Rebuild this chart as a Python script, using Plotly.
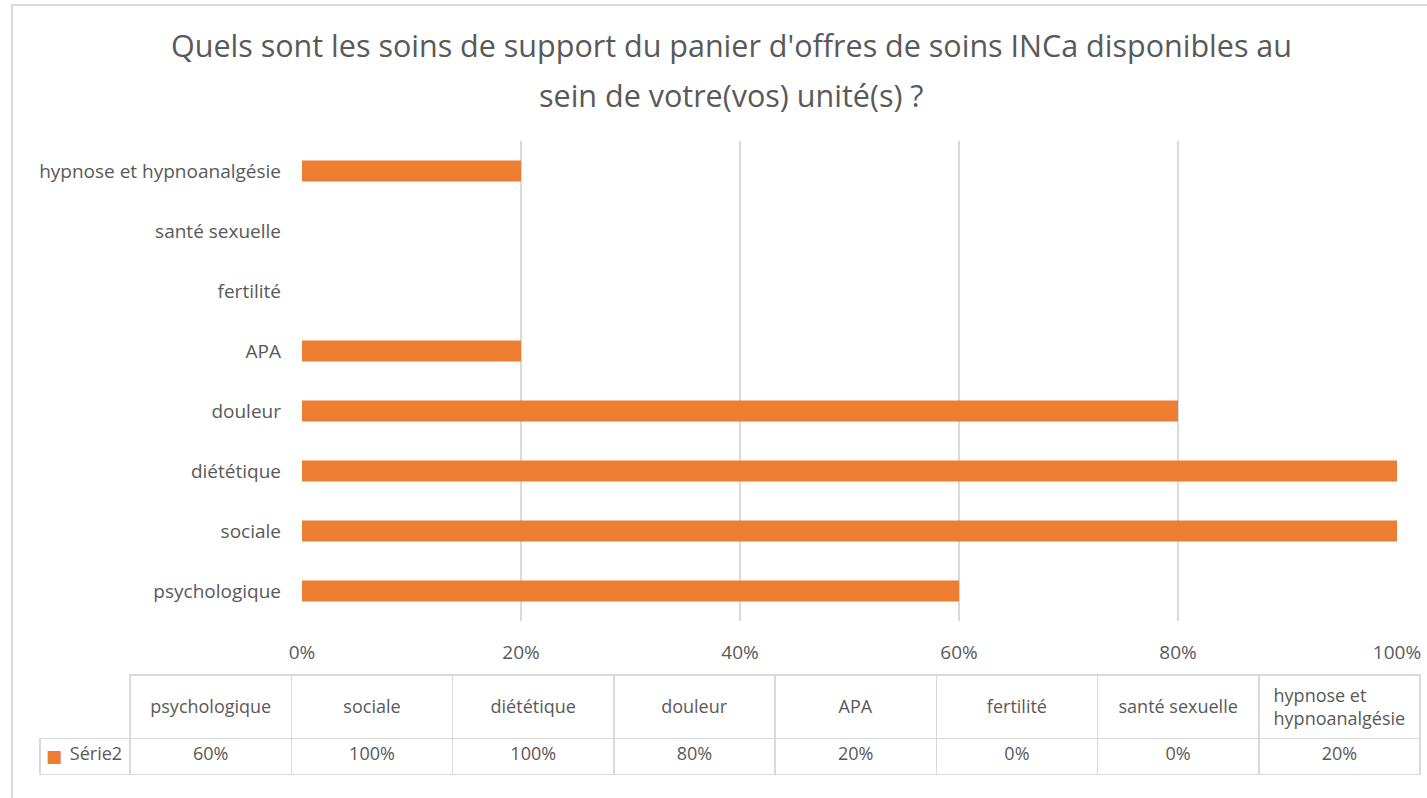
import plotly.graph_objects as go

categories = ["psychologique", "sociale", "diététique", "douleur", "APA",
              "fertilité", "santé sexuelle", "hypnose et hypnoanalgésie"]
values = [0.60, 1.00, 1.00, 0.80, 0.20, 0.00, 0.00, 0.20]
table_headers = ["psychologique", "sociale", "diététique", "douleur", "APA",
                 "fertilité", "santé sexuelle", "hypnose et<br>hypnoanalgésie"]
series_name = "Série2"
x_ticks = [0, 0.2, 0.4, 0.6, 0.8, 1.0]

W, H = 1427, 798
BAR = "#ED7D31"
GRID = "#D9D9D9"
TXT = "#595959"
FONT = "Open Sans"
FS = 19
TFS = 18

fig = go.Figure()
fig.add_trace(go.Bar(
    x=values, y=categories, orientation="h",
    marker=dict(color=BAR, line=dict(width=0)),
    name=series_name, showlegend=False, hoverinfo="x+y",
))

# single-line headers get a tiny leading line so they sit nearer mid-row
SPACER = "<span style='font-size:7px'>\u00a0</span><br>"
hdr_text = [""] + [h if "<br>" in h else SPACER + h for h in table_headers]
hdr_line_colors = ["rgba(0,0,0,0)"] + [GRID] * len(table_headers)
fig.add_trace(go.Table(
    domain=dict(x=[40 / W, 1420 / W], y=[1 - 777 / H, 1 - 675 / H]),
    columnwidth=[90] + [161] * len(table_headers),
    header=dict(
        values=hdr_text,
        align="center",
        height=56,
        fill=dict(color="white"),
        line=dict(color=hdr_line_colors, width=1.5),
        font=dict(family=FONT, size=TFS, color=TXT),
    ),
    cells=dict(
        values=[[series_name]] + [[f"{v:.0%}"] for v in values],
        align=["right"] + ["center"] * len(values),
        height=36,
        fill=dict(color="white"),
        line=dict(color=GRID, width=1.5),
        font=dict(family=FONT, size=TFS, color=TXT),
    ),
))

fig.update_layout(
    width=W, height=H, autosize=False,
    margin=dict(l=0, r=0, t=0, b=0),
    paper_bgcolor="white", plot_bgcolor="white",
    bargap=0.65,
    font=dict(family=FONT, size=FS, color=TXT),
    xaxis=dict(
        domain=[302 / W, 1397 / W], range=[0, 1],
        tickvals=x_ticks, tickformat=".0%",
        showgrid=True, gridcolor=GRID, gridwidth=1.5,
        zeroline=False, showline=False, ticks="",
        tickfont=dict(family=FONT, size=FS, color=TXT),
        ticklabelstandoff=18, fixedrange=True, automargin=False,
    ),
    yaxis=dict(
        domain=[1 - 621 / H, 1 - 141 / H],
        categoryorder="array", categoryarray=categories,
        showgrid=False, zeroline=False, showline=False, ticks="",
        tickfont=dict(family=FONT, size=FS, color=TXT),
        ticklabelstandoff=20, fixedrange=True, automargin=False,
    ),
    shapes=[
        dict(type="rect", xref="paper", yref="paper",
             x0=12 / W, x1=1.05, y0=-0.05, y1=1 - 5 / H,
             line=dict(color="#D9D9D9", width=2), layer="below"),
    ],
    annotations=[
        dict(text="Quels sont les soins de support du panier d'offres de soins INCa disponibles au",
             xref="paper", yref="paper", x=731 / W, y=1 - 45 / H,
             xanchor="center", yanchor="middle", showarrow=False,
             font=dict(family=FONT, size=30.5, color=TXT)),
        dict(text="sein de votre(vos) unité(s) ?",
             xref="paper", yref="paper", x=731 / W, y=1 - 95 / H,
             xanchor="center", yanchor="middle", showarrow=False,
             font=dict(family=FONT, size=30.5, color=TXT)),
        # legend key of the data table row
        dict(text="■", xref="paper", yref="paper", x=54 / W, y=1 - 756 / H,
             xanchor="center", yanchor="middle", showarrow=False,
             font=dict(family="DejaVu Sans", size=17, color=BAR)),
    ],
)

fig.write_html("out.html",
               config={"displayModeBar": False},
               post_script="document.body.style.margin='0px';"
                           "document.body.style.overflow='hidden';")
